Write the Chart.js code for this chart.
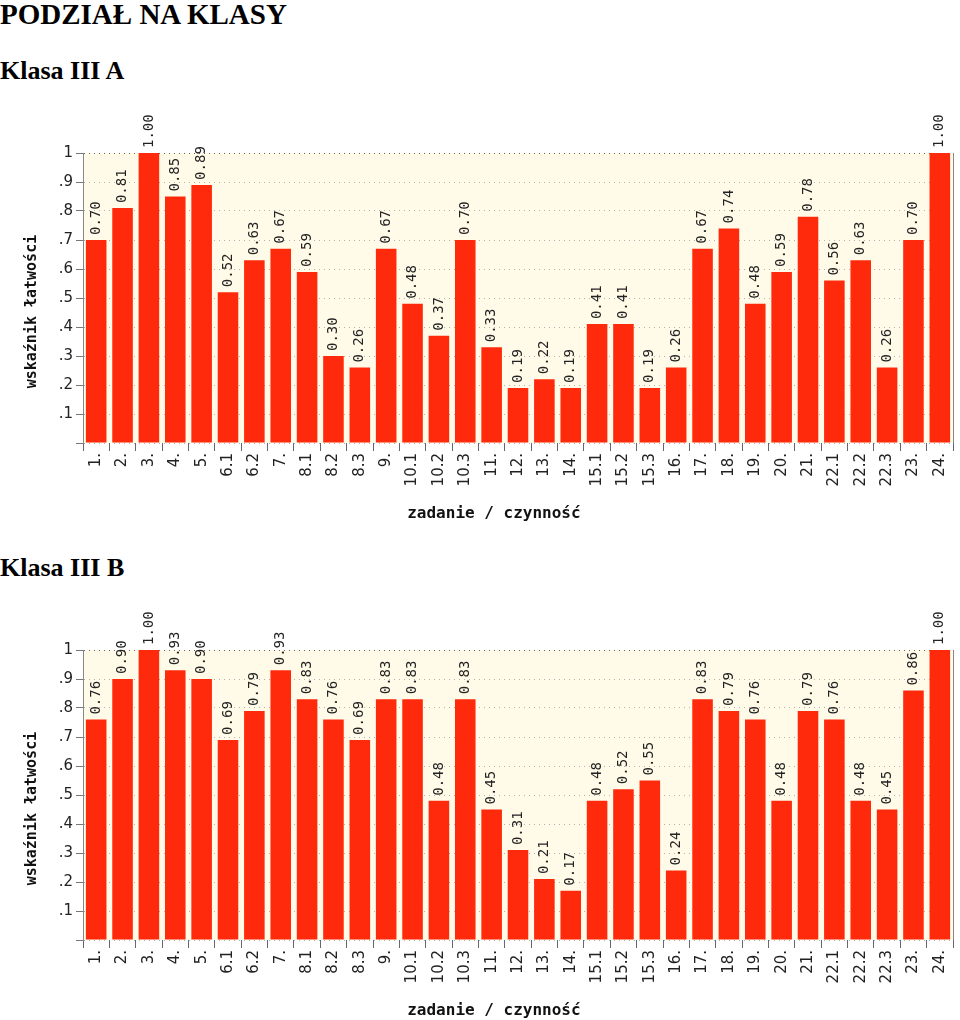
<!DOCTYPE html>
<html>
<head>
<meta charset="utf-8">
<script src="https://cdn.jsdelivr.net/npm/chart.js@4/dist/chart.umd.min.js"></script>
<style>
  html, body { margin: 0; padding: 0; background: #fff; overflow: hidden; }
  body { width: 960px; height: 1020px; position: relative; }
  .h1 { position: absolute; left: 0; top: 0; font: bold 29px/29px "Liberation Serif", serif; color: #000; }
  .h2 { position: absolute; left: 0; font: bold 26px/26px "Liberation Serif", serif; color: #000; }
  .box { position: absolute; left: 0; width: 960px; height: 430px; }
</style>
</head>
<body>
<div class="h1">PODZIAŁ NA KLASY</div>
<div class="h2" style="top:58px">Klasa III A</div>
<div class="box" style="top:100px"><canvas id="chartA"></canvas></div>
<div class="h2" style="top:555px">Klasa III B</div>
<div class="box" style="top:597px"><canvas id="chartB"></canvas></div>
<script>
// dane
const zadania = ["1.", "2.", "3.", "4.", "5.", "6.1", "6.2", "7.", "8.1", "8.2", "8.3", "9.",
  "10.1", "10.2", "10.3", "11.", "12.", "13.", "14.", "15.1", "15.2", "15.3", "16.", "17.",
  "18.", "19.", "20.", "21.", "22.1", "22.2", "22.3", "23.", "24."];
const klasaA = [0.70, 0.81, 1.00, 0.85, 0.89, 0.52, 0.63, 0.67, 0.59, 0.30, 0.26, 0.67,
  0.48, 0.37, 0.70, 0.33, 0.19, 0.22, 0.19, 0.41, 0.41, 0.19, 0.26, 0.67,
  0.74, 0.48, 0.59, 0.78, 0.56, 0.63, 0.26, 0.70, 1.00];
const klasaB = [0.76, 0.90, 1.00, 0.93, 0.90, 0.69, 0.79, 0.93, 0.83, 0.76, 0.69, 0.83,
  0.83, 0.48, 0.83, 0.45, 0.31, 0.21, 0.17, 0.48, 0.52, 0.55, 0.24, 0.83,
  0.79, 0.76, 0.48, 0.79, 0.76, 0.48, 0.45, 0.86, 1.00];
const yTickLabels = ["", ".1", ".2", ".3", ".4", ".5", ".6", ".7", ".8", ".9", "1"];

// tło obszaru wykresu + prawa krawędź
const tloPlugin = {
  id: "tlo",
  beforeDraw(chart) {
    const { ctx, chartArea: a } = chart;
    ctx.save();
    ctx.fillStyle = "#fffbe8";
    ctx.fillRect(a.left, a.top, a.right - a.left, a.bottom - a.top);
    ctx.restore();
  },
  afterDraw(chart) {
    const { ctx, chartArea: a } = chart;
    ctx.save();
    ctx.strokeStyle = "#888";
    ctx.lineWidth = 1;
    ctx.beginPath();
    ctx.moveTo(a.right + 0.5, a.top);
    ctx.lineTo(a.right + 0.5, a.bottom);
    ctx.stroke();
    ctx.restore();
  },
};

// etykiety wartości nad słupkami (pionowo)
const wartosciPlugin = {
  id: "wartosci",
  afterDatasetsDraw(chart) {
    const ctx = chart.ctx;
    const ds = chart.data.datasets[0];
    ctx.save();
    ctx.fillStyle = "#222";
    ctx.font = '14px "DejaVu Sans Mono", monospace';
    ctx.textAlign = "left";
    ctx.textBaseline = "middle";
    chart.getDatasetMeta(0).data.forEach((bar, i) => {
      ctx.save();
      ctx.translate(bar.x, bar.y - 5);
      ctx.rotate(-Math.PI / 2);
      ctx.fillText(ds.data[i].toFixed(2), 0, 0);
      ctx.restore();
    });
    ctx.restore();
  },
};

function rysuj(id, dane) {
  const ctx = document.getElementById(id).getContext("2d");
  return new Chart(ctx, {
    type: "bar",
    data: {
      labels: zadania,
      datasets: [
        {
          data: dane,
          backgroundColor: "#ff2a0c",
          borderWidth: 0,
          barPercentage: 0.78,
          categoryPercentage: 1,
        },
      ],
    },
    options: {
      responsive: true,
      maintainAspectRatio: false,
      animation: false,
      layout: { padding: { top: 53, right: 7, left: 0, bottom: 0 } },
      plugins: {
        legend: { display: false },
        tooltip: { enabled: false },
      },
      scales: {
        y: {
          min: 0,
          max: 1,
          afterFit: (s) => { s.width = 83; },
          ticks: {
            stepSize: 0.1,
            color: "#222",
            padding: 3,
            font: { family: "DejaVu Sans", size: 15 },
            callback: (v, i) => yTickLabels[i],
          },
          grid: {
            color: (c) => (c.tick && c.tick.value >= 1 ? "#666" : "#b0b0b0"),
            tickColor: "#777",
            tickLength: 7,
          },
          border: { display: true, color: "#888", dash: [1, 4] },
          title: {
            display: true,
            text: "wskaźnik łatwości   ",
            color: "#111",
            font: { family: "DejaVu Sans Mono", size: 15, weight: "bold" },
            padding: { top: 23, bottom: 0 },
          },
        },
        x: {
          afterFit: (s) => { s.height = 87; },
          ticks: {
            minRotation: 90,
            maxRotation: 90,
            padding: 2,
            color: "#222",
            font: { family: "DejaVu Sans", size: 15 },
          },
          grid: {
            drawOnChartArea: false,
            offset: true,
            tickLength: 8,
            tickColor: "#667",
          },
          border: { display: false },
          title: {
            display: true,
            text: "zadanie / czynność     ",
            color: "#111",
            font: { family: "DejaVu Sans Mono", size: 16, weight: "bold" },
            padding: { top: 0, bottom: 7 },
          },
        },
      },
    },
    plugins: [tloPlugin, wartosciPlugin],
  });
}

rysuj("chartA", klasaA);
rysuj("chartB", klasaB);
</script>
</body>
</html>
